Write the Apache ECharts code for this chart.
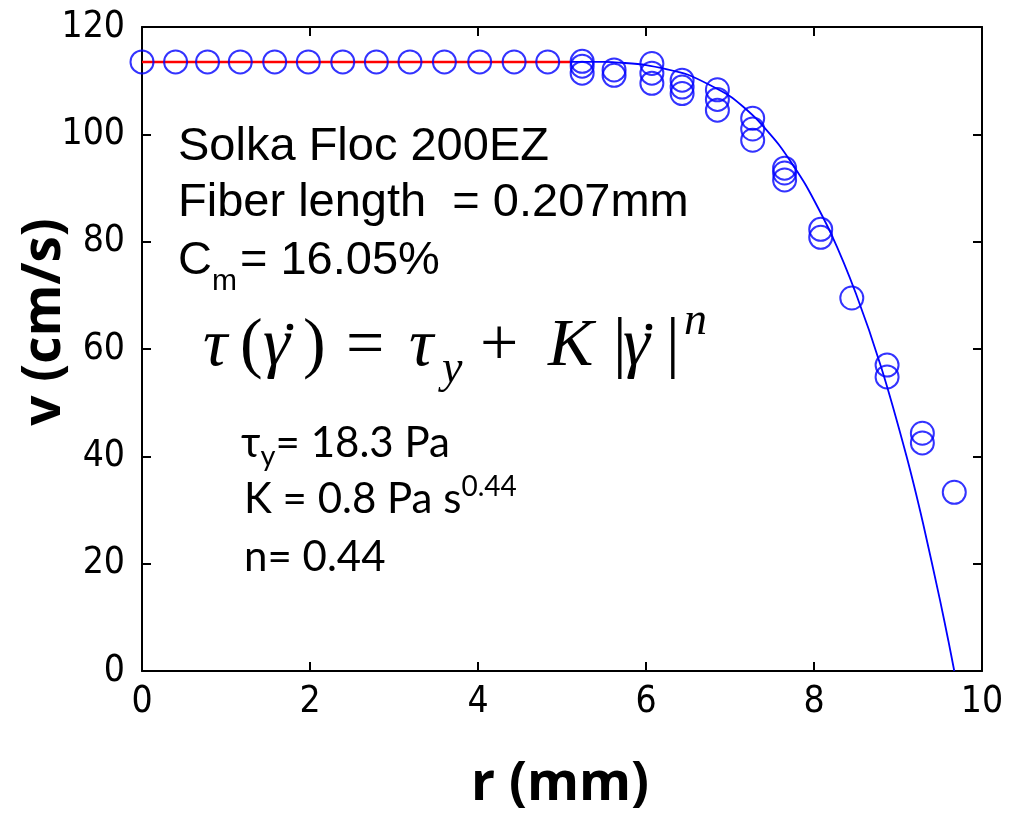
<!DOCTYPE html>
<html>
<head>
<meta charset="utf-8">
<script src="https://cdn.jsdelivr.net/npm/echarts@6/dist/echarts.min.js"></script>
<style>
html,body{margin:0;padding:0;background:#fff;}
#chart{width:1015px;height:817px;}
</style>
</head>
<body>
<div id="chart"></div>
<script>
// ---- data ----
var xTicks = [0, 2, 4, 6, 8, 10];
var yTicks = [0, 20, 40, 60, 80, 100, 120];

// measured velocities (circles)
var measR = [0, 0.40, 0.78, 1.17, 1.58, 1.98, 2.39, 2.79, 3.19, 3.60, 4.02, 4.43, 4.83,
             5.24, 5.24, 5.24, 5.62, 5.62, 6.07, 6.07, 6.07, 6.43, 6.43, 6.43,
             6.85, 6.85, 6.85, 7.27, 7.27, 7.27, 7.65, 7.65, 7.65, 8.08, 8.08,
             8.45, 8.87, 8.87, 9.29, 9.29, 9.67];
var measV = [113.5, 113.5, 113.5, 113.5, 113.5, 113.5, 113.5, 113.5, 113.5, 113.5, 113.5, 113.5, 113.5,
             113.6, 112.7, 111.4, 112.0, 111.0, 113.2, 111.4, 109.5, 110.1, 108.8, 107.6,
             108.3, 106.5, 104.5, 103.0, 101.0, 98.9, 93.7, 92.8, 91.5, 82.3, 80.8,
             69.5, 57.0, 54.8, 44.3, 42.5, 33.3];

// plug-flow part of the model (red)
var plugR = [0, 5.1];
var plugV = [113.5, 113.5];

// sheared part of the model fit (blue)
var fitR = [5.1, 5.5, 6.0, 6.5, 7.0, 7.3, 7.6, 7.9, 8.2, 8.5, 8.8, 9.1, 9.3, 9.5, 9.6, 9.67];
var fitV = [113.5, 113.5, 112.9, 111.1, 107.1, 103.1, 97.7, 90.6, 81.6, 70.3, 56.6, 40.1, 27.4, 13.2, 5.6, 0];

var xTitle = 'r (mm)';
var yTitle = 'v (cm/s)';

function zip(a, b) { return a.map(function (v, i) { return [v, b[i]]; }); }

var tickFont = "'Liberation Sans Narrow','DejaVu Sans Condensed','Liberation Sans',sans-serif";
var axisLine = { show: true, onZero: false, lineStyle: { color: '#000', width: 2 } };
var tickIn = { show: true, inside: true, length: 9, lineStyle: { color: '#000', width: 2 } };

var serif = "'Liberation Serif','DejaVu Serif',serif";
function piece(txt, x, y, size, italic) {
  return { type: 'text', x: x, y: y, z: 10,
    style: { text: txt, fill: '#000', align: 'left', verticalAlign: 'middle',
             font: (italic ? 'italic ' : '') + size + 'px ' + serif } };
}
function dot(x, y) {
  return { type: 'circle', z: 10, shape: { cx: x, cy: y, r: 3.3 }, style: { fill: '#000' } };
}

var chart = echarts.init(document.getElementById('chart'), null, { renderer: 'canvas' });
var option = {
  backgroundColor: '#fff',
  animation: false,
  grid: { left: 142, right: 33, top: 27, bottom: 146, containLabel: false },
  xAxis: [
    { type: 'value', position: 'bottom', min: 0, max: 10, interval: 2,
      axisLine: axisLine, axisTick: tickIn, splitLine: { show: false },
      axisLabel: { margin: 13, fontSize: 37, color: '#000', fontFamily: tickFont,
        formatter: function (v) { return xTicks.indexOf(v) >= 0 ? String(v) : ''; } } },
    { type: 'value', position: 'top', min: 0, max: 10, interval: 2,
      axisLine: axisLine, axisTick: tickIn, splitLine: { show: false }, axisLabel: { show: false } }
  ],
  yAxis: [
    { type: 'value', position: 'left', min: 0, max: 120, interval: 20,
      axisLine: axisLine, axisTick: tickIn, splitLine: { show: false },
      axisLabel: { margin: 17, fontSize: 37, color: '#000', fontFamily: tickFont,
        formatter: function (v) { return yTicks.indexOf(v) >= 0 ? String(v) : ''; } } },
    { type: 'value', position: 'right', min: 0, max: 120, interval: 20,
      axisLine: axisLine, axisTick: tickIn, splitLine: { show: false }, axisLabel: { show: false } }
  ],
  series: [
    { type: 'line', data: zip(plugR, plugV), showSymbol: false, symbol: 'none',
      lineStyle: { color: '#ff0000', width: 2.5 }, z: 2 },
    { type: 'scatter', data: zip(measR, measV), symbol: 'circle', symbolSize: 23,
      itemStyle: { color: 'rgba(0,0,0,0)', borderColor: '#0000ff', borderWidth: 2 }, z: 3 },
    { type: 'line', data: zip(fitR, fitV), showSymbol: false, symbol: 'none', smooth: 0.2,
      lineStyle: { color: '#0000ff', width: 1.8 }, z: 4 }
  ],
  graphic: [
    // axis titles
    { type: 'text', x: 560, y: 785, z: 10,
      style: { text: xTitle, fill: '#000', font: "bold 53px 'Open Sans','Noto Sans',sans-serif",
               align: 'center', verticalAlign: 'middle' } },
    { type: 'text', x: 45, y: 322, rotation: Math.PI / 2, z: 10,
      style: { text: yTitle, fill: '#000', font: "bold 53px 'Open Sans','Noto Sans',sans-serif",
               align: 'center', verticalAlign: 'middle' } },
    // annotation block 1 (Arial-like)
    { type: 'text', x: 178, y: 147, z: 10,
      style: { text: 'Solka Floc 200EZ', fill: '#000', font: "47px 'Liberation Sans',Arial,sans-serif",
               align: 'left', verticalAlign: 'middle' } },
    { type: 'text', x: 178, y: 203, z: 10,
      style: { text: 'Fiber length  = 0.207mm', fill: '#000', font: "47px 'Liberation Sans',Arial,sans-serif",
               align: 'left', verticalAlign: 'middle' } },
    { type: 'text', x: 178, y: 261, z: 10,
      style: { text: '{a|C}{s|m}{a|= 16.05%}', align: 'left', verticalAlign: 'middle',
               rich: {
                 a: { fill: '#000', fontSize: 47, fontFamily: "'Liberation Sans',Arial,sans-serif", lineHeight: 72, verticalAlign: 'middle' },
                 s: { fill: '#000', fontSize: 30, fontFamily: "'Liberation Sans',Arial,sans-serif", lineHeight: 30, verticalAlign: 'bottom', padding: [0, 3, 0, 0] }
               } } },
    // formula (TeX-like serif), pieces placed individually
    piece('τ', 203, 347, 68, true),
    piece('(', 240, 347, 68, false),
    piece('γ', 263, 347, 68, true),
    dot(290, 327),
    piece(')', 303, 347, 68, false),
    piece('=', 346, 347, 68, false),
    piece('τ', 409, 347, 68, true),
    piece('y', 442, 370, 46, true),
    piece('+', 480, 347, 68, false),
    piece('K', 548, 347, 68, true),
    piece('|', 613, 347, 68, false),
    piece('γ', 623, 347, 68, true),
    dot(649, 327),
    piece('|', 666, 347, 68, false),
    piece('n', 684, 322, 46, true),
    // parameter block (Calibri-like)
    { type: 'text', x: 241, y: 443, z: 10,
      style: { text: '{a|τ}{s|y}{a|= 18.3 Pa}', align: 'left', verticalAlign: 'middle',
               rich: {
                 a: { fill: '#000', fontSize: 42, fontFamily: "Lato,'Open Sans',sans-serif", lineHeight: 56, verticalAlign: 'middle' },
                 s: { fill: '#000', fontSize: 29, fontFamily: "Lato,'Open Sans',sans-serif", lineHeight: 29, verticalAlign: 'bottom' }
               } } },
    { type: 'text', x: 244, y: 499, z: 10,
      style: { text: '{a|K = 0.8 Pa s}{p|0.44}', align: 'left', verticalAlign: 'middle',
               rich: {
                 a: { fill: '#000', fontSize: 42, fontFamily: "Lato,'Open Sans',sans-serif", lineHeight: 52, verticalAlign: 'middle' },
                 p: { fill: '#000', fontSize: 28, fontFamily: "Lato,'Open Sans',sans-serif", lineHeight: 28, verticalAlign: 'top' }
               } } },
    { type: 'text', x: 244, y: 557, z: 10,
      style: { text: 'n= 0.44', fill: '#000', font: "42px Lato,'Open Sans',sans-serif",
               align: 'left', verticalAlign: 'middle' } }
  ]
};
chart.setOption(option);
</script>
</body>
</html>
